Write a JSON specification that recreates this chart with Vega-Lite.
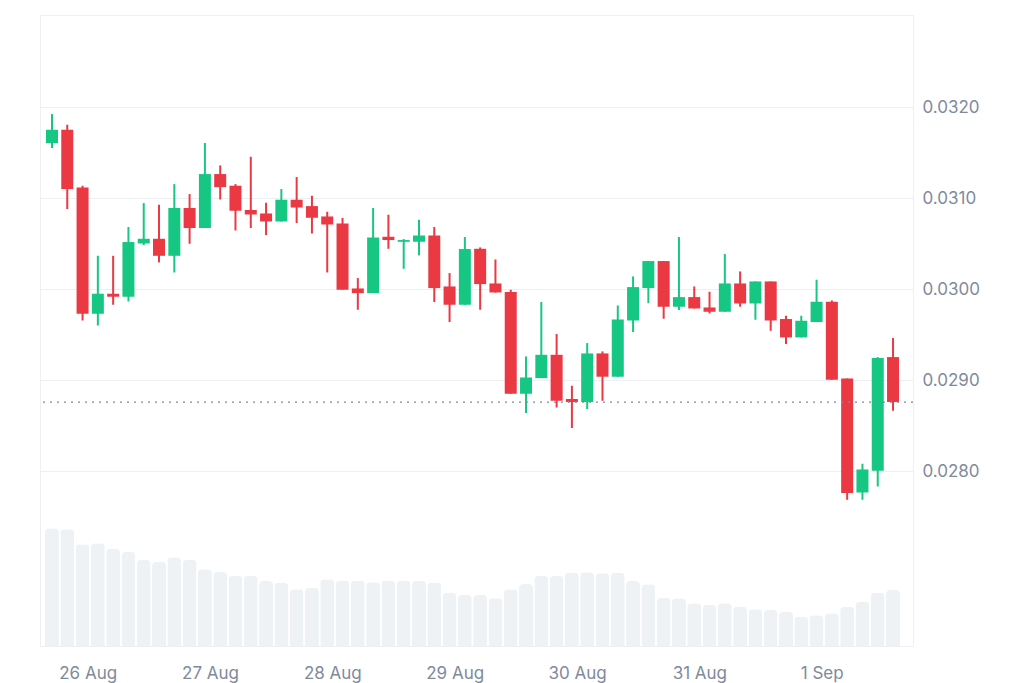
{
  "$schema": "https://vega.github.io/schema/vega-lite/v6.json",
  "width": 873,
  "height": 631,
  "autosize": {"type": "none"},
  "padding": {"left": 40, "top": 15, "right": 111, "bottom": 37},
  "background": "white",
  "config": {
    "view": {"stroke": "#eceff3", "strokeWidth": 1},
    "font": "Inter",
    "axis": {"labelFont": "Inter", "labelFontSize": 17, "labelColor": "#808a9d", "ticks": false, "domain": false, "title": null}
  },
  "datasets": {
    "candles": [
      {"t": "2023-08-25T17:00:00", "open": 0.031609, "high": 0.031927, "low": 0.031554, "close": 0.031755, "volume": 117.7},
      {"t": "2023-08-25T20:00:00", "open": 0.031755, "high": 0.031810, "low": 0.030884, "close": 0.031103, "volume": 116.7},
      {"t": "2023-08-25T23:00:00", "open": 0.031121, "high": 0.031140, "low": 0.029659, "close": 0.029733, "volume": 101.7},
      {"t": "2023-08-26T02:00:00", "open": 0.029733, "high": 0.030370, "low": 0.029604, "close": 0.029953, "volume": 102.7},
      {"t": "2023-08-26T05:00:00", "open": 0.029953, "high": 0.030370, "low": 0.029832, "close": 0.029920, "volume": 97.3},
      {"t": "2023-08-26T08:00:00", "open": 0.029920, "high": 0.030686, "low": 0.029868, "close": 0.030521, "volume": 94},
      {"t": "2023-08-26T11:00:00", "open": 0.030505, "high": 0.030949, "low": 0.030488, "close": 0.030557, "volume": 86},
      {"t": "2023-08-26T14:00:00", "open": 0.030557, "high": 0.030931, "low": 0.030297, "close": 0.030370, "volume": 84.3},
      {"t": "2023-08-26T17:00:00", "open": 0.030370, "high": 0.031158, "low": 0.030187, "close": 0.030895, "volume": 88.7},
      {"t": "2023-08-26T20:00:00", "open": 0.030895, "high": 0.031048, "low": 0.030502, "close": 0.030675, "volume": 86},
      {"t": "2023-08-26T23:00:00", "open": 0.030675, "high": 0.031609, "low": 0.030675, "close": 0.031268, "volume": 76.7},
      {"t": "2023-08-27T02:00:00", "open": 0.031268, "high": 0.031363, "low": 0.030989, "close": 0.031125, "volume": 74},
      {"t": "2023-08-27T05:00:00", "open": 0.031140, "high": 0.031158, "low": 0.030648, "close": 0.030865, "volume": 70.3},
      {"t": "2023-08-27T08:00:00", "open": 0.030873, "high": 0.031458, "low": 0.030675, "close": 0.030824, "volume": 70.3},
      {"t": "2023-08-27T11:00:00", "open": 0.030835, "high": 0.030953, "low": 0.030598, "close": 0.030747, "volume": 65},
      {"t": "2023-08-27T14:00:00", "open": 0.030747, "high": 0.031103, "low": 0.030747, "close": 0.030986, "volume": 63.3},
      {"t": "2023-08-27T17:00:00", "open": 0.030986, "high": 0.031235, "low": 0.030730, "close": 0.030901, "volume": 56.7},
      {"t": "2023-08-27T20:00:00", "open": 0.030916, "high": 0.031030, "low": 0.030615, "close": 0.030788, "volume": 58.3},
      {"t": "2023-08-27T23:00:00", "open": 0.030802, "high": 0.030854, "low": 0.030187, "close": 0.030714, "volume": 66.7},
      {"t": "2023-08-28T02:00:00", "open": 0.030725, "high": 0.030785, "low": 0.029997, "close": 0.029997, "volume": 65.3},
      {"t": "2023-08-28T05:00:00", "open": 0.030011, "high": 0.030125, "low": 0.029777, "close": 0.029960, "volume": 65.3},
      {"t": "2023-08-28T08:00:00", "open": 0.029960, "high": 0.030895, "low": 0.029960, "close": 0.030571, "volume": 63.7},
      {"t": "2023-08-28T11:00:00", "open": 0.030579, "high": 0.030821, "low": 0.030447, "close": 0.030543, "volume": 65.3},
      {"t": "2023-08-28T14:00:00", "open": 0.030524, "high": 0.030554, "low": 0.030227, "close": 0.030543, "volume": 65.3},
      {"t": "2023-08-28T17:00:00", "open": 0.030524, "high": 0.030766, "low": 0.030374, "close": 0.030593, "volume": 65.3},
      {"t": "2023-08-28T20:00:00", "open": 0.030593, "high": 0.030686, "low": 0.029862, "close": 0.030015, "volume": 63.3},
      {"t": "2023-08-28T23:00:00", "open": 0.030033, "high": 0.030180, "low": 0.029642, "close": 0.029832, "volume": 53.3},
      {"t": "2023-08-29T02:00:00", "open": 0.029832, "high": 0.030576, "low": 0.029832, "close": 0.030444, "volume": 51},
      {"t": "2023-08-29T05:00:00", "open": 0.030447, "high": 0.030462, "low": 0.029777, "close": 0.030059, "volume": 51},
      {"t": "2023-08-29T08:00:00", "open": 0.030066, "high": 0.030330, "low": 0.029967, "close": 0.029967, "volume": 47.7},
      {"t": "2023-08-29T11:00:00", "open": 0.029971, "high": 0.029997, "low": 0.028854, "close": 0.028854, "volume": 56.7},
      {"t": "2023-08-29T14:00:00", "open": 0.028854, "high": 0.029264, "low": 0.028642, "close": 0.029033, "volume": 62},
      {"t": "2023-08-29T17:00:00", "open": 0.029026, "high": 0.029862, "low": 0.029026, "close": 0.029282, "volume": 70},
      {"t": "2023-08-29T20:00:00", "open": 0.029282, "high": 0.029510, "low": 0.028703, "close": 0.028777, "volume": 70},
      {"t": "2023-08-29T23:00:00", "open": 0.028796, "high": 0.028942, "low": 0.028477, "close": 0.028763, "volume": 73.3},
      {"t": "2023-08-30T02:00:00", "open": 0.028763, "high": 0.029411, "low": 0.028686, "close": 0.029297, "volume": 73.7},
      {"t": "2023-08-30T05:00:00", "open": 0.029297, "high": 0.029319, "low": 0.028777, "close": 0.029041, "volume": 72.7},
      {"t": "2023-08-30T08:00:00", "open": 0.029041, "high": 0.029824, "low": 0.029041, "close": 0.029670, "volume": 73.3},
      {"t": "2023-08-30T11:00:00", "open": 0.029659, "high": 0.030143, "low": 0.029532, "close": 0.030026, "volume": 65},
      {"t": "2023-08-30T14:00:00", "open": 0.030015, "high": 0.030312, "low": 0.029851, "close": 0.030312, "volume": 61.7},
      {"t": "2023-08-30T17:00:00", "open": 0.030312, "high": 0.030312, "low": 0.029678, "close": 0.029810, "volume": 48},
      {"t": "2023-08-30T20:00:00", "open": 0.029810, "high": 0.030576, "low": 0.029774, "close": 0.029916, "volume": 47.7},
      {"t": "2023-08-30T23:00:00", "open": 0.029916, "high": 0.030033, "low": 0.029791, "close": 0.029791, "volume": 42.7},
      {"t": "2023-08-31T02:00:00", "open": 0.029802, "high": 0.029975, "low": 0.029736, "close": 0.029755, "volume": 41},
      {"t": "2023-08-31T05:00:00", "open": 0.029755, "high": 0.030389, "low": 0.029755, "close": 0.030066, "volume": 42.7},
      {"t": "2023-08-31T08:00:00", "open": 0.030066, "high": 0.030198, "low": 0.029810, "close": 0.029846, "volume": 39.3},
      {"t": "2023-08-31T11:00:00", "open": 0.029846, "high": 0.030088, "low": 0.029667, "close": 0.030088, "volume": 36.7},
      {"t": "2023-08-31T14:00:00", "open": 0.030088, "high": 0.030088, "low": 0.029546, "close": 0.029659, "volume": 36},
      {"t": "2023-08-31T17:00:00", "open": 0.029675, "high": 0.029711, "low": 0.029400, "close": 0.029473, "volume": 34.3},
      {"t": "2023-08-31T20:00:00", "open": 0.029473, "high": 0.029711, "low": 0.029473, "close": 0.029656, "volume": 29.3},
      {"t": "2023-08-31T23:00:00", "open": 0.029642, "high": 0.030107, "low": 0.029642, "close": 0.029865, "volume": 30.7},
      {"t": "2023-09-01T02:00:00", "open": 0.029865, "high": 0.029879, "low": 0.029008, "close": 0.029008, "volume": 32.7},
      {"t": "2023-09-01T05:00:00", "open": 0.029022, "high": 0.029022, "low": 0.027689, "close": 0.027763, "volume": 39.3},
      {"t": "2023-09-01T08:00:00", "open": 0.027769, "high": 0.028085, "low": 0.027689, "close": 0.028022, "volume": 44.3},
      {"t": "2023-09-01T11:00:00", "open": 0.028008, "high": 0.029257, "low": 0.027835, "close": 0.029246, "volume": 53.3},
      {"t": "2023-09-01T14:00:00", "open": 0.029257, "high": 0.029466, "low": 0.028667, "close": 0.028763, "volume": 56}
    ],
    "last": [{"price": 0.028763}]
  },
  "layer": [
    {
      "data": {"name": "candles"},
      "mark": {"type": "bar", "width": 14, "color": "#eff2f5", "cornerRadiusTopLeft": 4, "cornerRadiusTopRight": 4},
      "encoding": {
        "x": {"field": "t", "type": "temporal",
          "scale": {"domain": [{"year": 2023, "month": 8, "date": 25, "hours": 14, "minutes": 39}, {"year": 2023, "month": 9, "date": 1, "hours": 17, "minutes": 55}], "padding": 0},
          "axis": {"format": "%-d %b", "tickCount": {"interval": "day", "step": 1}, "grid": false, "labelPadding": 19, "labelFlush": false}},
        "y": {"field": "volume", "type": "quantitative", "scale": {"domain": [0, 631], "nice": false}, "axis": null}
      }
    },
    {
      "layer": [
        {
          "data": {"name": "candles"},
          "mark": {"type": "rule", "strokeWidth": 2},
          "encoding": {
            "x": {"field": "t", "type": "temporal"},
            "y": {"field": "low", "type": "quantitative",
              "scale": {"domain": [0.026082, 0.033016], "nice": false, "zero": false},
              "axis": {"orient": "right", "values": [0.028, 0.029, 0.03, 0.031, 0.032], "format": ".4f", "grid": true, "gridColor": "#eceff3", "labelPadding": 9, "title": null}},
            "y2": {"field": "high"},
            "color": {"condition": {"test": "datum.close >= datum.open", "value": "#16c784"}, "value": "#ea3943"}
          }
        },
        {
          "data": {"name": "candles"},
          "mark": {"type": "bar", "width": 12},
          "encoding": {
            "x": {"field": "t", "type": "temporal"},
            "y": {"field": "open", "type": "quantitative"},
            "y2": {"field": "close"},
            "color": {"condition": {"test": "datum.close >= datum.open", "value": "#16c784"}, "value": "#ea3943"}
          }
        },
        {
          "data": {"name": "last"},
          "mark": {"type": "rule", "strokeDash": [2, 5], "strokeWidth": 1.2, "color": "#808a9d"},
          "encoding": {
            "y": {"field": "price", "type": "quantitative"}
          }
        }
      ]
    }
  ],
  "resolve": {"scale": {"y": "independent"}}
}
